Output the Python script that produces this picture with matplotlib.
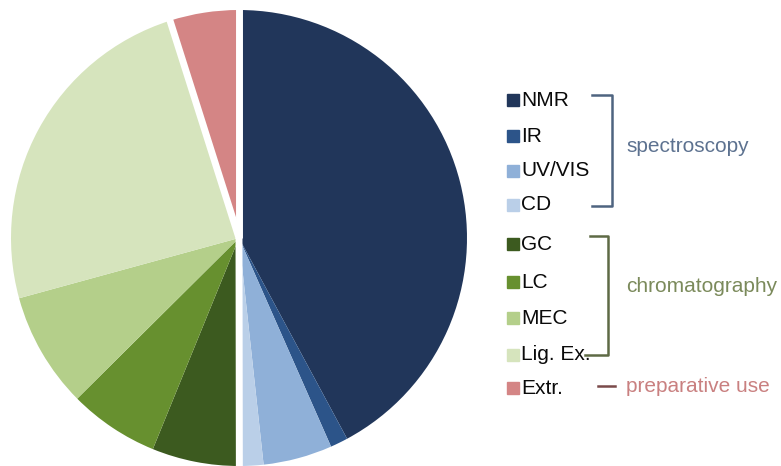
import numpy as np
import matplotlib.pyplot as plt
from matplotlib.patches import Rectangle

plt.rcParams['font.family'] = ['Liberation Sans', 'DejaVu Sans']

# --- DATA ---
labels = ['NMR', 'IR', 'UV/VIS', 'CD', 'GC', 'LC', 'MEC', 'Lig. Ex.', 'Extr.']
shares = [42.2, 1.25, 4.9, 1.7, 6.2, 6.4, 8.2, 24.4, 4.9]
colors = ['#21365a', '#2c5489', '#8fb0d8', '#bacfe8',
          '#3c5a1f', '#67902f', '#b4cf8a', '#d6e4bd', '#d48585']

# groups: (name, first index, last index)
groups = [('spectroscopy', 0, 3), ('chromatography', 4, 7), ('preparative use', 8, 8)]
group_line = ['#4e6480', '#5e6a45', '#7a4a4a']
group_text = ['#5d7290', '#7b8a5b', '#c98080']

W, H = 781, 466
fig = plt.figure(figsize=(W / 100, H / 100), dpi=100)

# --- PIE ---
cx, cy, r = 239, 238, 228
ax = fig.add_axes([(cx - r) / W, (H - cy - r) / H, 2 * r / W, 2 * r / H])
ax.pie(shares, colors=colors, startangle=90, counterclock=False, radius=1)

# white gaps between groups
cum = np.concatenate([[0], np.cumsum(shares)]) / np.sum(shares)
for name, i0, i1 in groups:
    ang = np.radians(90 - 360 * cum[i0])
    ax.plot([0, 1.02 * np.cos(ang)], [0, 1.02 * np.sin(ang)], color='white', lw=5,
            solid_capstyle='butt')
ax.set_xlim(-1, 1)
ax.set_ylim(-1, 1)
ax.set_aspect('equal')

# --- LEGEND (pixel coordinates) ---
lg = fig.add_axes([0, 0, 1, 1])
lg.set_xlim(0, W)
lg.set_ylim(H, 0)
lg.axis('off')

fs = 15
row_y = [100, 136, 171, 205, 244, 282, 318, 355, 388]
for lab, col, y in zip(labels, colors, row_y):
    lg.add_patch(Rectangle((507, y - 6), 12, 12, color=col))
    lg.text(521, y, lab, fontsize=fs, va='center', ha='left', color='#0a0a0a')

# brackets
lg.plot([592, 612, 612, 592], [95, 95, 206, 206], color=group_line[0], lw=1.8)
lg.text(626, 146, groups[0][0], fontsize=fs, va='center', color=group_text[0])

lg.plot([590, 608, 608, 585], [236, 236, 355, 355], color=group_line[1], lw=1.8)
lg.text(626, 286, groups[1][0], fontsize=fs, va='center', color=group_text[1])

lg.plot([598, 615], [386, 386], color=group_line[2], lw=1.8)
lg.text(626, 386, groups[2][0], fontsize=fs, va='center', color=group_text[2])

fig.savefig('out.png', dpi=100)
